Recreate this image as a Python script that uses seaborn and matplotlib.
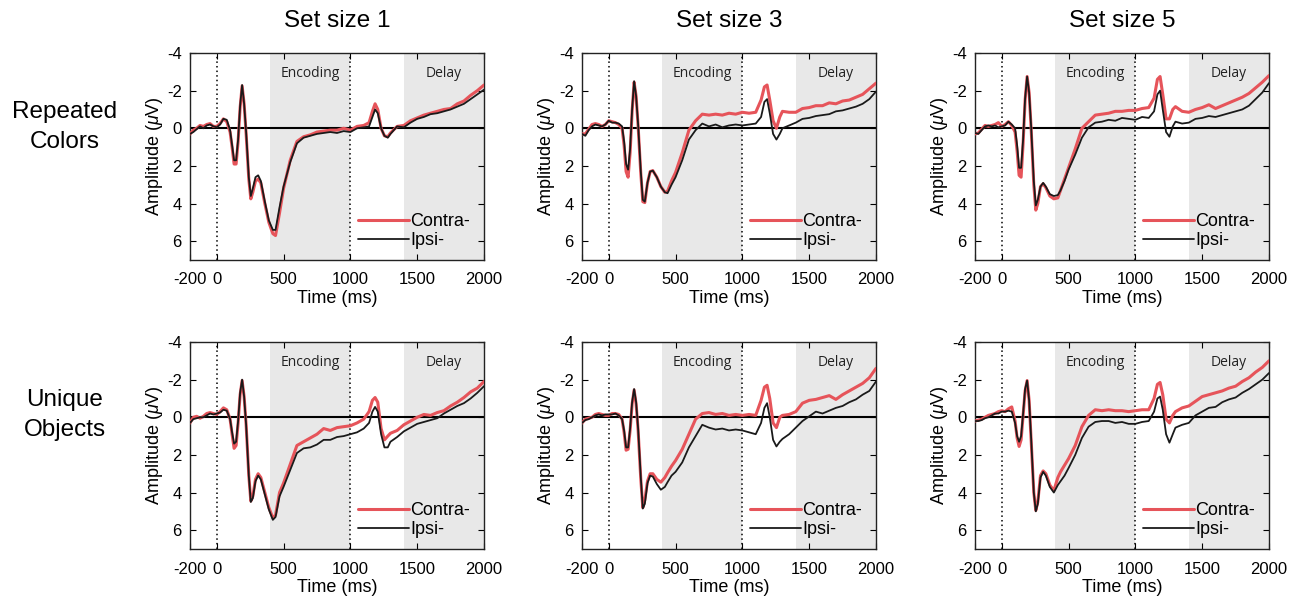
import matplotlib
matplotlib.use("Agg")
import matplotlib.pyplot as plt
import seaborn as sns

# ── data (amplitude in µV, time in ms) ─────────────────────────────────────────────
time_ms = [-200, -175, -150, -125, -100, -75, -50, -25, 0, 25, 50, 75, 100,
           115, 130, 145, 160, 175, 190, 205, 220,
           240, 255, 270, 290, 310, 330, 360, 390, 420, 440, 470, 500,
           550, 600, 650, 700, 750, 800, 850, 900, 950, 1000, 1050, 1100,
           1140, 1165, 1185, 1205, 1230, 1255, 1280, 1300,
           1350, 1400, 1450, 1500, 1550, 1600, 1650, 1700, 1750, 1800, 1850, 1900, 1950, 2000]

rc1_ipsi = [0.3, 0.2, 0.05, -0.1, 0.0, -0.15, -0.2, -0.1, -0.05, -0.2, -0.5, -0.45, 0.1,
            0.9, 1.7, 1.7, 0.6, -1.2, -2.3, -1.3, 0.2,
            2.6, 3.6, 3.2, 2.6, 2.5, 2.8, 3.9, 4.9, 5.4, 5.4, 4.2, 3.1,
            1.8, 0.8, 0.5, 0.4, 0.3, 0.25, 0.2, 0.25, 0.15, 0.2, 0.0, -0.05,
            -0.1, -0.6, -1.0, -0.8, 0.0, 0.4, 0.5, 0.3,
            -0.1, -0.05, -0.3, -0.5, -0.6, -0.75, -0.8, -0.9, -1.0, -1.15, -1.3, -1.55, -1.8, -2.05]
rc1_contra = [0.3, 0.1, 0.0, -0.15, -0.1, -0.2, -0.25, -0.1, -0.1, -0.25, -0.5, -0.35, 0.2,
              1.0, 1.9, 1.9, 0.7, -1.1, -2.25, -1.3, 0.3,
              2.7, 3.75, 3.4, 2.8, 2.7, 2.9, 4.0, 5.0, 5.6, 5.7, 4.5, 3.2,
              1.7, 0.7, 0.45, 0.35, 0.2, 0.15, 0.1, 0.1, 0.0, 0.1, -0.1, -0.15,
              -0.3, -0.9, -1.3, -1.0, 0.0, 0.4, 0.45, 0.25,
              -0.1, -0.15, -0.4, -0.55, -0.7, -0.8, -0.9, -1.0, -1.05, -1.3, -1.45, -1.75, -2.0, -2.3]

rc3_ipsi = [0.3, 0.4, 0.1, -0.1, -0.2, -0.15, -0.1, -0.2, -0.4, -0.3, -0.3, -0.25, -0.1,
            0.7, 1.9, 2.2, 1.1, -1.0, -2.5, -1.7, -0.2,
            2.3, 3.8, 3.9, 2.9, 2.3, 2.25, 2.6, 3.1, 3.4, 3.45, 3.0, 2.6,
            1.7, 0.6, 0.1, -0.25, -0.1, -0.2, -0.05, -0.15, -0.2, -0.15, -0.2, -0.25,
            -0.6, -1.4, -1.55, -0.8, 0.3, 0.6, 0.3, 0.0,
            -0.15, -0.3, -0.5, -0.55, -0.65, -0.7, -0.75, -0.9, -0.95, -1.05, -1.15, -1.3, -1.55, -1.95]
rc3_contra = [0.3, 0.3, 0.05, -0.2, -0.25, -0.2, -0.1, -0.2, -0.4, -0.35, -0.3, -0.2, 0.0,
              0.9, 2.3, 2.6, 1.3, -0.9, -2.45, -1.7, -0.1,
              2.4, 3.9, 3.95, 2.9, 2.3, 2.25, 2.6, 3.1, 3.4, 3.35, 2.8, 2.35,
              1.3, 0.1, -0.4, -0.75, -0.7, -0.75, -0.7, -0.8, -0.75, -0.85, -0.8, -0.85,
              -1.5, -2.2, -2.3, -1.5, -0.4, 0.0, -0.6, -0.9,
              -0.85, -0.85, -1.05, -1.1, -1.2, -1.2, -1.35, -1.3, -1.45, -1.5, -1.65, -1.8, -2.1, -2.4]

rc5_ipsi = [0.25, 0.3, 0.1, -0.1, -0.15, -0.1, -0.15, -0.05, -0.1, -0.15, -0.35, -0.2, 0.0,
            0.9, 2.1, 2.1, 0.6, -1.6, -2.75, -1.9, -0.1,
            2.8, 4.1, 3.8, 3.1, 2.9, 3.1, 3.5, 3.6, 3.55, 3.3, 2.8, 2.2,
            1.4, 0.5, -0.05, -0.3, -0.35, -0.45, -0.4, -0.55, -0.5, -0.45, -0.6, -0.55,
            -0.9, -1.8, -2.0, -1.0, 0.2, 0.45, -0.1, -0.35,
            -0.25, -0.3, -0.5, -0.55, -0.65, -0.6, -0.7, -0.8, -0.9, -1.0, -1.2, -1.55, -1.9, -2.4]
rc5_contra = [0.3, 0.25, 0.05, -0.15, -0.1, -0.15, -0.2, -0.3, -0.1, -0.2, -0.35, -0.15, 0.2,
              1.2, 2.5, 2.6, 0.8, -1.5, -2.75, -1.9, 0.0,
              3.0, 4.35, 4.0, 3.1, 2.95, 3.15, 3.6, 3.75, 3.7, 3.3, 2.7, 2.1,
              1.1, 0.0, -0.35, -0.7, -0.75, -0.8, -0.9, -0.9, -0.95, -0.95, -1.05, -1.1,
              -1.6, -2.6, -2.75, -1.8, -0.5, -0.5, -1.0, -1.15,
              -0.9, -0.85, -1.0, -1.1, -1.25, -1.05, -1.2, -1.35, -1.5, -1.65, -1.85, -2.15, -2.45, -2.8]

uo1_ipsi = [0.3, 0.1, 0.05, 0.0, 0.0, -0.1, -0.2, -0.15, -0.2, -0.25, -0.4, -0.35, 0.1,
            0.8, 1.4, 1.3, 0.2, -1.3, -2.0, -1.1, 0.4,
            3.1, 4.5, 4.3, 3.4, 3.1, 3.3, 4.1, 4.9, 5.45, 5.3, 4.2, 3.7,
            2.8, 1.9, 1.65, 1.6, 1.45, 1.2, 1.2, 1.05, 1.0, 0.9, 0.8, 0.6,
            0.3, -0.3, -0.55, -0.3, 0.9, 1.6, 1.6, 1.3,
            1.05, 0.75, 0.55, 0.35, 0.25, 0.15, 0.05, -0.2, -0.4, -0.6, -0.75, -1.0, -1.3, -1.65]
uo1_contra = [0.3, 0.0, -0.05, 0.05, -0.05, -0.2, -0.25, -0.2, -0.15, -0.3, -0.5, -0.4, 0.1,
              0.9, 1.65, 1.5, 0.3, -1.2, -1.95, -1.1, 0.4,
              3.1, 4.45, 4.2, 3.3, 3.0, 3.2, 4.0, 4.8, 5.35, 5.2, 4.0, 3.5,
              2.5, 1.5, 1.3, 1.1, 0.9, 0.6, 0.7, 0.55, 0.5, 0.45, 0.3, 0.1,
              -0.3, -0.9, -1.05, -0.8, 0.6, 1.2, 1.0, 0.85,
              0.7, 0.4, 0.2, 0.0, -0.15, -0.1, -0.25, -0.35, -0.6, -0.8, -1.05, -1.35, -1.55, -1.9]

uo3_ipsi = [0.3, 0.15, 0.1, 0.0, -0.1, -0.15, -0.1, -0.15, -0.15, -0.15, -0.2, -0.1, 0.1,
            0.7, 1.6, 1.6, 0.6, -0.8, -1.5, -0.8, 0.6,
            3.2, 4.85, 4.6, 3.5, 3.1, 3.15, 3.55, 3.85, 3.7, 3.45, 3.1, 2.9,
            2.4, 1.6, 1.0, 0.4, 0.55, 0.65, 0.6, 0.7, 0.65, 0.7, 0.8, 0.9,
            0.3, -0.5, -0.75, 0.0, 1.2, 1.55, 1.3, 1.15,
            0.9, 0.55, 0.2, -0.05, -0.3, -0.2, -0.35, -0.5, -0.6, -0.8, -0.95, -1.2, -1.4, -1.9]
uo3_contra = [0.3, 0.1, 0.05, 0.0, -0.15, -0.2, -0.15, -0.1, -0.1, -0.2, -0.2, -0.15, 0.1,
              0.8, 1.75, 1.7, 0.7, -0.7, -1.45, -0.7, 0.7,
              3.3, 4.8, 4.4, 3.4, 3.0, 3.0, 3.3, 3.45, 3.2, 2.95, 2.6, 2.3,
              1.7, 0.9, 0.1, -0.2, -0.25, -0.15, -0.2, -0.1, -0.15, -0.1, -0.15, -0.1,
              -0.9, -1.6, -1.7, -1.0, 0.3, 0.55, 0.0, -0.1,
              -0.15, -0.3, -0.75, -0.9, -0.95, -1.05, -1.15, -0.95, -1.2, -1.4, -1.6, -1.8, -2.1, -2.6]

uo5_ipsi = [0.2, 0.2, 0.15, 0.05, 0.0, -0.1, -0.2, -0.2, -0.3, -0.3, -0.35, -0.3, 0.3,
            1.0, 1.3, 1.0, -0.2, -1.5, -1.95, -0.9, 1.1,
            4.0, 5.0, 4.6, 3.2, 2.9, 3.1, 3.7, 4.0, 3.6, 3.4, 3.1, 2.7,
            2.0, 1.1, 0.5, 0.25, 0.2, 0.2, 0.3, 0.25, 0.35, 0.35, 0.25, 0.2,
            -0.3, -1.0, -1.1, -0.4, 0.9, 1.35, 0.9, 0.55,
            0.4, 0.3, -0.1, -0.3, -0.5, -0.55, -0.8, -0.95, -1.05, -1.3, -1.5, -1.75, -2.0, -2.35]
uo5_contra = [0.2, 0.15, 0.1, 0.0, -0.1, -0.15, -0.2, -0.3, -0.35, -0.3, -0.45, -0.55, 0.2,
              1.1, 1.55, 1.2, -0.1, -1.4, -1.95, -0.9, 1.2,
              4.0, 4.95, 4.5, 3.1, 2.85, 3.0, 3.6, 3.9, 3.2, 2.9, 2.55, 2.2,
              1.5, 0.5, -0.1, -0.4, -0.35, -0.4, -0.35, -0.35, -0.3, -0.35, -0.4, -0.4,
              -1.0, -1.75, -1.85, -1.2, 0.1, 0.3, -0.1, -0.3,
              -0.5, -0.6, -0.85, -1.1, -1.2, -1.3, -1.4, -1.55, -1.65, -1.9, -2.1, -2.4, -2.65, -3.0]

set_titles = ["Set size 1", "Set size 3", "Set size 5"]
row_labels = ["Repeated\nColors", "Unique\nObjects"]
panels = [[(rc1_contra, rc1_ipsi), (rc3_contra, rc3_ipsi), (rc5_contra, rc5_ipsi)],
          [(uo1_contra, uo1_ipsi), (uo3_contra, uo3_ipsi), (uo5_contra, uo5_ipsi)]]

for row in panels:
    for c, i in row:
        assert len(c) == len(time_ms) and len(i) == len(time_ms)

RED = "#e6545a"
SHADE = "#e8e8e8"

sns.set_style("ticks")
plt.rcParams["font.family"] = ["Liberation Sans", "DejaVu Sans"]
plt.rcParams["axes.unicode_minus"] = False
plt.rcParams["mathtext.fontset"] = "custom"
plt.rcParams["mathtext.it"] = "Liberation Sans:italic"
plt.rcParams["mathtext.rm"] = "Liberation Sans"
plt.rcParams["text.color"] = "black"
plt.rcParams["axes.labelcolor"] = "black"
plt.rcParams["xtick.color"] = "black"
plt.rcParams["ytick.color"] = "black"

fig = plt.figure(figsize=(12.99, 6.0), dpi=100)

lefts = [190, 582, 975]
tops = [53, 342]
W, H = 294, 207

for r in range(2):
    for c in range(3):
        x0 = lefts[c] / 1299
        y0 = 1 - (tops[r] + H) / 600
        ax = fig.add_axes([x0, y0, W / 1299, H / 600])
        contra, ipsi = panels[r][c]

        ax.axvspan(400, 1000, color=SHADE, lw=0, zorder=0)
        ax.axvspan(1400, 2000, color=SHADE, lw=0, zorder=0)
        ax.axhline(0, color="black", lw=1.5, zorder=1)
        for xv in (0, 1000):
            ax.axvline(xv, color="black", lw=1.1, ls=(0, (1, 2)), zorder=1)

        sns.lineplot(x=time_ms, y=contra, ax=ax, color=RED, lw=2.2,
                     label="Contra-", zorder=3)
        sns.lineplot(x=time_ms, y=ipsi, ax=ax, color="#1a1a1a", lw=1.3,
                     label="Ipsi-", zorder=4)

        ax.text(700, -2.9, "Encoding", ha="center", va="center",
                fontsize=10, family=["Open Sans", "DejaVu Sans"], color="#222222")
        ax.text(1700, -2.9, "Delay", ha="center", va="center",
                fontsize=10, family=["Open Sans", "DejaVu Sans"], color="#222222")

        ax.set_xlim(-200, 2000)
        ax.set_ylim(7, -4)
        ax.set_xticks([-200, 0, 500, 1000, 1500, 2000])
        ax.set_xticklabels(["-200", "0", "500", "1000", "1500", "2000"])
        ax.set_yticks([-4, -2, 0, 2, 4, 6])
        ax.tick_params(direction="in", top=True, right=True, length=4,
                       labelsize=12, width=0.8)
        ax.tick_params(axis="x", pad=9)
        ax.tick_params(axis="y", pad=6)
        for sp in ax.spines.values():
            sp.set_linewidth(1.0)
            sp.set_color("#222222")
        ax.set_xlabel("Time (ms)", fontsize=13, labelpad=2)
        ax.set_ylabel(r"Amplitude ($\mu$V)", fontsize=13, labelpad=1)

        ax.legend(loc="lower right", bbox_to_anchor=(0.99, 0.0), frameon=False,
                  fontsize=13, handlelength=2.8, handletextpad=0.1,
                  labelspacing=0.12, borderaxespad=0.2)

        if r == 0:
            fig.text((lefts[c] + W / 2) / 1299, 1 - 21 / 600, set_titles[c],
                     ha="center", va="center", fontsize=17.5)
    fig.text(65 / 1299, 1 - (127 if r == 0 else 415) / 600, row_labels[r],
             ha="center", va="center", fontsize=17.5, linespacing=1.45)

fig.savefig("out.png", dpi=100)
